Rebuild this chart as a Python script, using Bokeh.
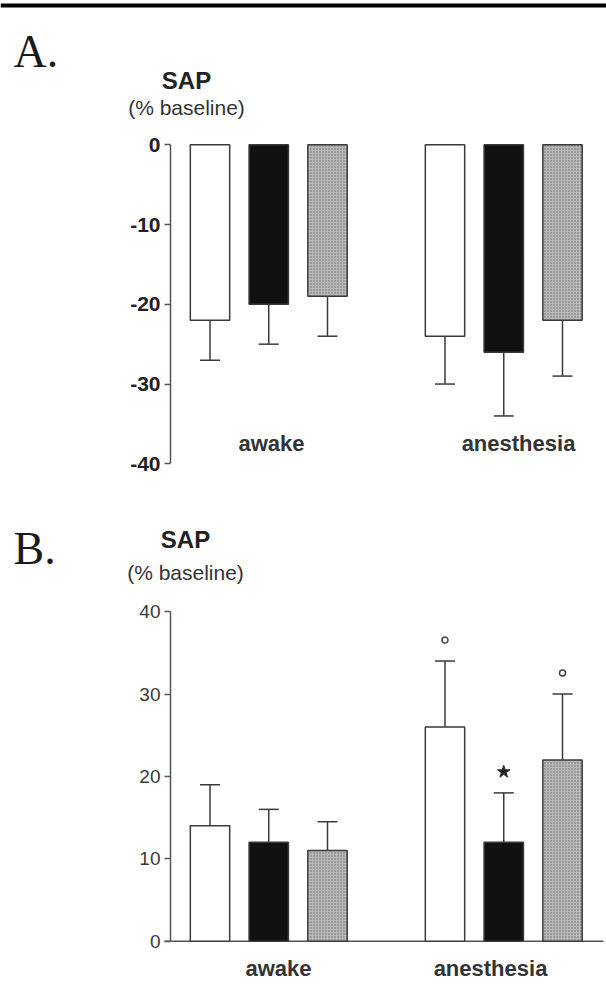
from bokeh.plotting import figure
from bokeh.layouts import column
from bokeh.models import Label, Span, FixedTicker
from bokeh.embed import file_html
from bokeh.resources import INLINE

# ---------------- data ----------------
conditions = ["awake", "anesthesia"]
series = ["open", "filled", "shaded"]

# Panel A: SAP (% baseline), decreases
a_awake = [-22, -20, -19]
a_anesthesia = [-24, -26, -22]
a_awake_sd = [5, 5, 5]
a_anesthesia_sd = [6, 8, 7]
a_ticks = [0, -10, -20, -30, -40]

# Panel B: SAP (% baseline), increases
b_awake = [14, 12, 11]
b_anesthesia = [26, 12, 22]
b_awake_sd = [5, 4, 3.5]
b_anesthesia_sd = [8, 6, 8]
b_ticks = [0, 10, 20, 30, 40]
b_awake_marks = ["", "", ""]
b_anesthesia_marks = ["°", "*", "°"]

# ---------------- styles / geometry ----------------
FILL = {"open": "white", "filled": "#111111", "shaded": "#b9b9b9"}
LINE = "#3a3a3a"
TXT = "#222222"
FONT = "Liberation Sans"
SERIF = "Liberation Serif"

W = 606
AXIS_PAGE_X = 170
X0_PAGE = 209.5      # page x of first bar centre
X_UNIT = 58.75       # px per x unit
GROUP_GAP = 4
BAR_W = 0.67
CAP_HALF = 0.17


def px(page_x):
    return (page_x - X0_PAGE) / X_UNIT


def make_panel(top_page, height, zero_page, unit_px, letter, letter_pos,
               sap_pos, base_pos, awake_pos, anest_pos, groups, sds, ticks,
               bounds, bold_ticks, tick_size, tick_color, marks=None,
               show_x_line=False, rule_y=None):
    def py(page_y):
        return (zero_page - page_y) / unit_px

    p = figure(width=W, height=height, title=None,
               x_range=(px(0), px(W)),
               y_range=(py(top_page + height), py(top_page)),
               x_axis_type=None, toolbar_location=None,
               output_backend="svg", min_border=0,
               outline_line_color=None)
    p.grid.grid_line_color = None

    ax = p.yaxis[0]
    ax.fixed_location = px(AXIS_PAGE_X)
    ax.ticker = FixedTicker(ticks=ticks)
    ax.major_label_overrides = {t: str(t) for t in ticks}
    ax.bounds = bounds
    ax.axis_line_color = "#555555"
    ax.axis_line_width = 1.5
    ax.major_tick_line_color = "#555555"
    ax.major_tick_line_width = 1.5
    ax.major_tick_in = 0
    ax.major_tick_out = 6
    ax.minor_tick_line_color = None
    ax.major_label_standoff = 4
    ax.major_label_text_font = FONT
    ax.major_label_text_font_size = tick_size
    ax.major_label_text_color = tick_color
    ax.major_label_text_font_style = "bold" if bold_ticks else "normal"

    if rule_y is not None:
        p.add_layout(Span(location=py(rule_y), dimension="width",
                          line_color="black", line_width=4))

    if show_x_line:
        p.segment(x0=[px(AXIS_PAGE_X - 6)], y0=[0], x1=[px(603)], y1=[0],
                  line_color="#555555", line_width=1.5)

    for s_i, name in enumerate(series):
        xs = [GROUP_GAP * g + s_i for g in range(len(conditions))]
        vals = [groups[g][s_i] for g in range(len(conditions))]
        errs = [sds[g][s_i] for g in range(len(conditions))]
        ends = [v + (e if v >= 0 else -e) for v, e in zip(vals, errs)]
        p.segment(x0=xs, y0=vals, x1=xs, y1=ends, line_color=LINE, line_width=1.5)
        p.segment(x0=[x - CAP_HALF for x in xs], y0=ends,
                  x1=[x + CAP_HALF for x in xs], y1=ends,
                  line_color=LINE, line_width=1.5)
        kw = dict(x=xs, top=[0] * len(xs), bottom=vals, width=BAR_W,
                  fill_color=FILL[name], line_color=LINE, line_width=1.5)
        if name == "shaded":
            kw.update(hatch_pattern="dot", hatch_color="#6e6e6e",
                      hatch_scale=3, hatch_weight=1)
        p.vbar(**kw)

        if marks is not None:
            for g in range(len(conditions)):
                m = marks[g][s_i]
                if not m:
                    continue
                y = ends[g] + 21 / unit_px
                if m == "*":
                    p.scatter(x=[xs[g]], y=[y], marker="star", size=13,
                              fill_color="#222222", line_color="#222222")
                else:
                    p.scatter(x=[xs[g]], y=[y], marker="circle", size=6,
                              fill_color="white", line_color="#444444",
                              line_width=1.5)

    def lab(text, pos, size, bold=False, align="center", font=FONT, color=TXT):
        p.add_layout(Label(x=px(pos[0]), y=py(pos[1]), text=text,
                           text_font=font, text_font_size=size,
                           text_font_style="bold" if bold else "normal",
                           text_align=align, text_baseline="middle",
                           text_color=color))

    lab(letter, letter_pos, "46px", align="left", font=SERIF, color="#1a1a1a")
    lab("SAP", sap_pos, "24px", bold=True)
    lab("(% baseline)", base_pos, "21px", color="#333333")
    lab(conditions[0], awake_pos, "22px", bold=True, color="#333333")
    lab(conditions[1], anest_pos, "22px", bold=True, color="#333333")
    return p


pa = make_panel(top_page=0, height=497, zero_page=144.3, unit_px=7.975,
                letter="A.", letter_pos=(13, 51), sap_pos=(186, 80),
                base_pos=(186, 107), awake_pos=(271, 443), anest_pos=(518, 443),
                groups=[a_awake, a_anesthesia], sds=[a_awake_sd, a_anesthesia_sd],
                ticks=a_ticks, bounds=(-40, 0), bold_ticks=True, tick_size="21px",
                tick_color="#222222", rule_y=5)

pb = make_panel(top_page=497, height=498, zero_page=940.7, unit_px=8.24,
                letter="B.", letter_pos=(13, 548), sap_pos=(185, 539),
                base_pos=(185, 572), awake_pos=(278, 968), anest_pos=(490, 968),
                groups=[b_awake, b_anesthesia], sds=[b_awake_sd, b_anesthesia_sd],
                ticks=b_ticks, bounds=(0, 40), bold_ticks=False, tick_size="19px",
                tick_color="#3a3a3a",
                marks=[b_awake_marks, b_anesthesia_marks], show_x_line=True)

layout = column(pa, pb, spacing=0)
open("out.html", "w").write(file_html(layout, INLINE))
